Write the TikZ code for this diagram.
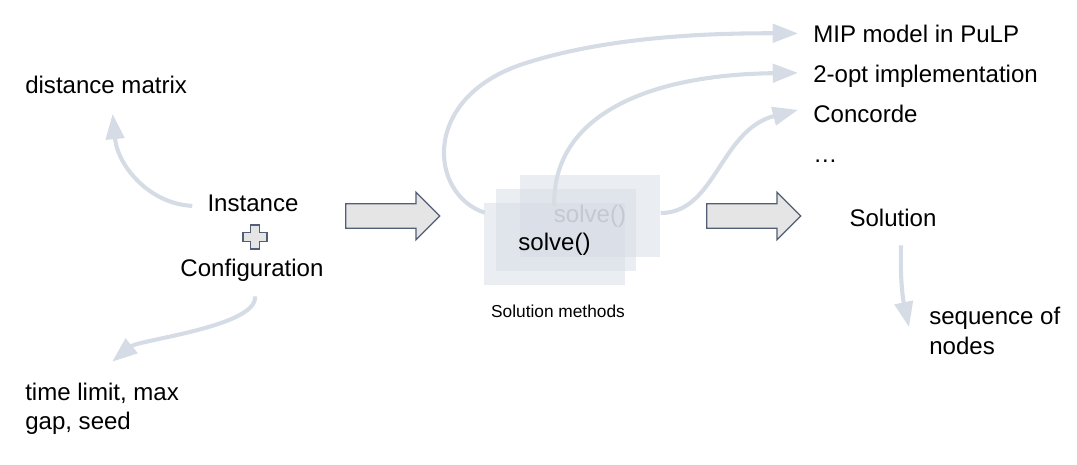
\documentclass[tikz,border=0pt]{standalone}
\usepackage{fontspec}
\setmainfont{Liberation Sans}
\usepackage{tikz}
\usetikzlibrary{positioning,
        shapes,
        arrows.meta}
\usepackage{xcolor}
\definecolor{flowcol}{HTML}{D6DCE5}
\definecolor{edgecol}{HTML}{525E75}
\definecolor{ghostcol}{HTML}{8A919C}

\begin{document}
\begin{tikzpicture}[x=0.025cm, y=-0.025cm,
        txt/.style={inner sep=0pt, text height=12.3pt, text depth=3.6pt, font=\fontsize{17.1}{21}\selectfont},
        multi/.style={inner sep=0pt, align=left, font=\fontsize{17.1}{21}\selectfont},
        flow/.style={draw=flowcol, line width=2.9pt, -{Triangle[length=18pt, width=13pt]}},
        blockarrow/.style={single arrow, draw=edgecol, fill=black!10, line width=0.9pt, minimum height=2.35cm, inner sep=0.2875cm, single arrow head extend=0.29cm},
        solvebox/.style={rectangle, fill=flowcol, fill opacity=0.5, text opacity=1, minimum width=3.52cm, minimum height=2.05cm, inner sep=0pt, font=\fontsize{17.1}{21}\selectfont}]
        \useasboundingbox (0,0) rectangle (1077,465);

        % inputs
        \node [txt, anchor=base west] (dm) at (25,93.5) {distance matrix};
        \node [txt, anchor=base] (inst) at (253,212) {Instance};
        \node [txt, anchor=base] (conf) at (252,277) {Configuration};
        \node [multi, anchor=west] (opts) at (25,409) {time limit, max\\gap, seed};
        \draw [edgecol, fill=black!10, line width=0.8pt, shift={(255,237)}] (-4.5,-12) -- (4.5,-12) -- (4.5,-4.5) -- (12,-4.5) -- (12,4.5) -- (4.5,4.5) -- (4.5,12) -- (-4.5,12) -- (-4.5,4.5) -- (-12,4.5) -- (-12,-4.5) -- (-4.5,-4.5) -- cycle;

        % methods
        \node [blockarrow, anchor=tail] (arr1) at (345,216) {};
        \node [solvebox, text=ghostcol] (back) at (590,216) {solve()};
        \node [solvebox] (mid) at (566,230) {};
        \node [solvebox] (front) at (554.5,244) {solve()};
        \node [txt, anchor=base, font=\fontsize{12.3}{15}\selectfont] (meth) at (558,317) {Solution methods};

        \node [txt, anchor=base west] (mip) at (813,42.5) {MIP model in PuLP};
        \node [txt, anchor=base west] (opt) at (813,83) {2-opt implementation};
        \node [txt, anchor=base west] (conc) at (813,123) {Concorde};
        \node [txt, anchor=base west] (more) at (813,163) {…};

        % output
        \node [blockarrow, anchor=tail] (arr2) at (706,216) {};
        \node [txt, anchor=base] (sol) at (893,227) {Solution};
        \node [multi, anchor=west] (seq) at (929,331) {sequence of\\nodes};

        \draw [flow] ([shift={(-15,0)}]inst.west) .. controls +(-43,-2) and +(5,52) .. ([shift={(6.5,15)}]dm.south);
        \draw [flow] ([shift={(3,14)}]conf.south) .. controls +(3,30) and +(27,-22) .. ([shift={(10,-21)}]opts.north);
        \draw [flow] ([shift={(1,10)}]front.north west) .. controls (430,195) and (420,100) .. (520,65) .. controls (600,38) and (700,33) .. ([shift={(-15,-3)}]mip.west);
        \draw [flow] ([shift={(35,32)}]back.north west) .. controls +(-3,-87) and +(-158,2) .. ([shift={(-15,-4)}]opt.west);
        \draw [flow] ([shift={(0,-3)}]back.east) .. controls +(55,0) and +(-78,20) .. ([shift={(-15,-7)}]conc.west);
        \draw [flow] ([shift={(8,13)}]sol.south) .. controls +(-1,35) and +(-6,-28) .. ([shift={(-20,20)}]seq.north west);
\end{tikzpicture}
\end{document}
